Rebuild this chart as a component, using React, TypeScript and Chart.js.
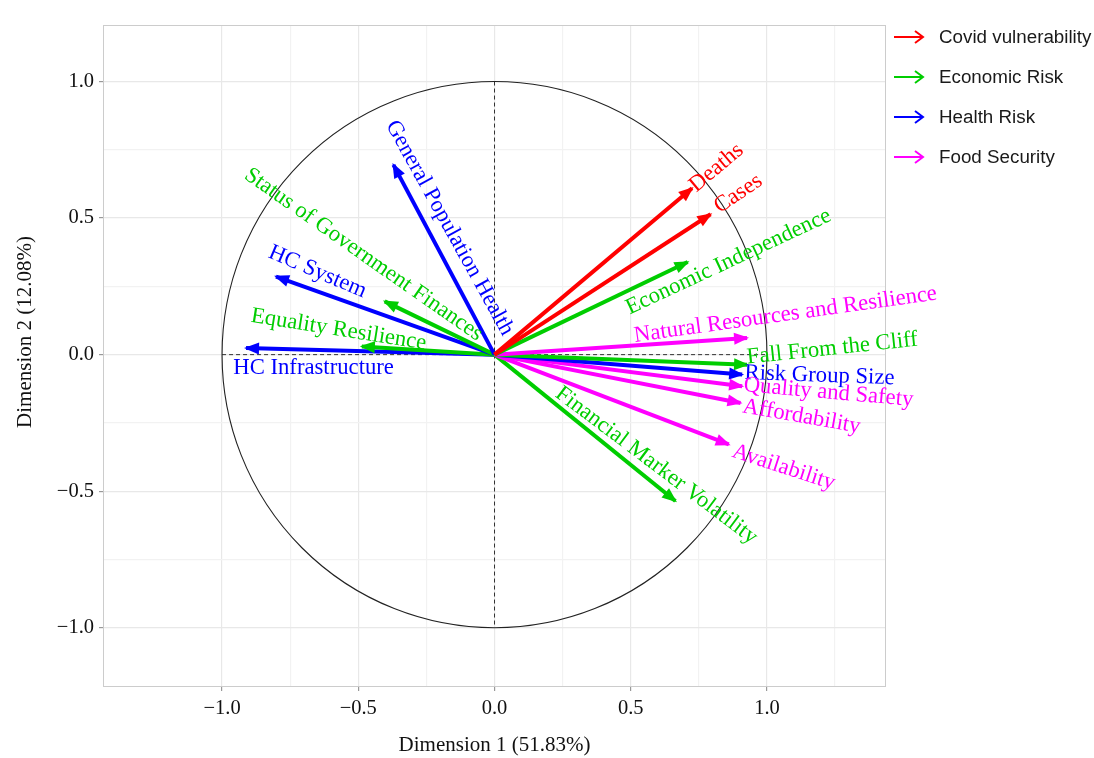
import React, { useEffect, useRef } from "react";
import { Chart, registerables } from "chart.js";

Chart.register(...registerables);

// ---- Data ----
const variables = [
  "Deaths",
  "Cases",
  "Economic Independence",
  "Natural Resources and Resilience",
  "Fall From the Cliff",
  "Risk Group Size",
  "Quality and Safety",
  "Affordability",
  "Availability",
  "Financial Marker Volatility",
  "General Population Health",
  "Status of Government Finances",
  "HC System",
  "Equality Resilience",
  "HC Infrastructure",
];
const dim1 = [0.725, 0.793, 0.709, 0.927, 0.927, 0.909, 0.909, 0.903, 0.86, 0.664, -0.371, -0.403, -0.802, -0.487, -0.912];
const dim2 = [0.609, 0.514, 0.339, 0.061, -0.037, -0.073, -0.116, -0.177, -0.329, -0.536, 0.695, 0.195, 0.286, 0.03, 0.024];
const groupOf = [0, 0, 1, 3, 1, 2, 3, 3, 3, 1, 2, 1, 2, 1, 2];

const groups = ["Covid vulnerability", "Economic Risk", "Health Risk", "Food Security"];

const xTickValues = [-1, -0.75, -0.5, -0.25, 0, 0.25, 0.5, 0.75, 1, 1.25];
const yTickValues = [-1, -0.75, -0.5, -0.25, 0, 0.25, 0.5, 0.75, 1];

const xTitle = "Dimension 1 (51.83%)";
const yTitle = "Dimension 2 (12.08%)";

// ---- Label placement (data coords + angle in degrees) ----
const labelPlacement = [
  { x: 0.815, y: 0.684, a: -40 },
  { x: 0.895, y: 0.589, a: -34 },
  { x: 0.859, y: 0.34, a: -25 },
  { x: 1.068, y: 0.146, a: -8 },
  { x: 1.24, y: 0.022, a: -6 },
  { x: 1.193, y: -0.077, a: 2 },
  { x: 1.226, y: -0.139, a: 5 },
  { x: 1.127, y: -0.227, a: 10 },
  { x: 1.061, y: -0.413, a: 18 },
  { x: 0.594, y: -0.406, a: 37 },
  { x: -0.165, y: 0.464, a: 61 },
  { x: -0.481, y: 0.366, a: 35 },
  { x: -0.65, y: 0.303, a: 23 },
  { x: -0.572, y: 0.091, a: 9 },
  { x: -0.664, y: -0.048, a: 0 },
];

// ---- Styles ----
const groupColors = ["#FF0000", "#00CD00", "#0000FF", "#FF00FF"];
const SERIF = "'Liberation Serif', 'Times New Roman', serif";
const SANS = "'Liberation Sans', Arial, sans-serif";

const isMajor = (v: number) => Math.abs(v * 2 - Math.round(v * 2)) < 1e-9;
const fmt = (v: number) => (v < 0 ? "\u2212" : "") + Math.abs(v).toFixed(1);

const decorPlugin = {
  id: "decor",
  beforeDatasetsDraw(chart: any) {
    const { ctx, chartArea, scales } = chart;
    const xs = scales.x;
    const ys = scales.y;
    ctx.save();
    ctx.strokeStyle = "#cccccc";
    ctx.lineWidth = 1;
    ctx.strokeRect(chartArea.left + 0.5, chartArea.top + 0.5, chartArea.right - chartArea.left - 1, chartArea.bottom - chartArea.top - 1);
    ctx.strokeStyle = "#333333";
    ctx.setLineDash([4, 3]);
    ctx.lineWidth = 1;
    ctx.beginPath();
    ctx.moveTo(xs.getPixelForValue(-1), ys.getPixelForValue(0));
    ctx.lineTo(xs.getPixelForValue(1), ys.getPixelForValue(0));
    ctx.moveTo(xs.getPixelForValue(0), ys.getPixelForValue(1));
    ctx.lineTo(xs.getPixelForValue(0), ys.getPixelForValue(-1));
    ctx.stroke();
    ctx.setLineDash([]);
    const cx = xs.getPixelForValue(0);
    const cy = ys.getPixelForValue(0);
    const rx = xs.getPixelForValue(1) - cx;
    const ry = cy - ys.getPixelForValue(1);
    ctx.strokeStyle = "#222222";
    ctx.lineWidth = 1.1;
    ctx.beginPath();
    ctx.ellipse(cx, cy, rx, ry, 0, 0, Math.PI * 2);
    ctx.stroke();
    ctx.restore();
  },
  afterDatasetsDraw(chart: any) {
    const { ctx, scales } = chart;
    const xs = scales.x;
    const ys = scales.y;
    ctx.save();
    variables.forEach((_, i) => {
      const x0 = xs.getPixelForValue(0);
      const y0 = ys.getPixelForValue(0);
      const x1 = xs.getPixelForValue(dim1[i]);
      const y1 = ys.getPixelForValue(dim2[i]);
      const ang = Math.atan2(y1 - y0, x1 - x0);
      const tx = x1 + Math.cos(ang) * 2;
      const ty = y1 + Math.sin(ang) * 2;
      const L = 15;
      const W = 6;
      const bx = tx - Math.cos(ang) * L;
      const by = ty - Math.sin(ang) * L;
      ctx.fillStyle = groupColors[groupOf[i]];
      ctx.beginPath();
      ctx.moveTo(tx, ty);
      ctx.lineTo(bx + Math.sin(ang) * W, by - Math.cos(ang) * W);
      ctx.lineTo(bx - Math.sin(ang) * W, by + Math.cos(ang) * W);
      ctx.closePath();
      ctx.fill();
    });
    ctx.font = `22.7px ${SERIF}`;
    ctx.textAlign = "center";
    ctx.textBaseline = "middle";
    variables.forEach((name, i) => {
      const p = labelPlacement[i];
      ctx.save();
      ctx.translate(xs.getPixelForValue(p.x), ys.getPixelForValue(p.y));
      ctx.rotate((p.a * Math.PI) / 180);
      ctx.fillStyle = groupColors[groupOf[i]];
      ctx.fillText(name, 0, 0);
      ctx.restore();
    });
    ctx.restore();
  },
  afterDraw(chart: any) {
    const { ctx, chartArea } = chart;
    ctx.save();
    ctx.fillStyle = "#111111";
    ctx.font = `21px ${SERIF}`;
    ctx.textAlign = "center";
    ctx.textBaseline = "middle";
    ctx.fillText(xTitle, (chartArea.left + chartArea.right) / 2, 745);
    ctx.save();
    ctx.translate(25, 332);
    ctx.rotate(-Math.PI / 2);
    ctx.fillText(yTitle, 0, 0);
    ctx.restore();
    groups.forEach((g, i) => {
      const y = 37 + i * 40;
      const col = groupColors[i];
      ctx.strokeStyle = col;
      ctx.lineWidth = 2;
      ctx.beginPath();
      ctx.moveTo(894, y);
      ctx.lineTo(923, y);
      ctx.moveTo(915, y - 6);
      ctx.lineTo(923, y);
      ctx.lineTo(915, y + 6);
      ctx.stroke();
      ctx.fillStyle = "#1a1a1a";
      ctx.font = `18.8px ${SANS}`;
      ctx.textAlign = "left";
      ctx.textBaseline = "middle";
      ctx.fillText(g, 939, y + 1);
    });
    ctx.restore();
  },
};

export default function App() {
  const canvasRef = useRef<HTMLCanvasElement | null>(null);

  useEffect(() => {
    document.body.style.margin = "0";
    const canvas = canvasRef.current;
    if (!canvas) return;

    const datasets = variables.map((name, i) => ({
      label: name,
      data: [
        { x: 0, y: 0 },
        { x: dim1[i], y: dim2[i] },
      ],
      showLine: true,
      borderColor: groupColors[groupOf[i]],
      backgroundColor: groupColors[groupOf[i]],
      borderWidth: 4,
      pointRadius: 0,
      borderCapStyle: "butt",
    }));

    const gridColor = (ctx: any) => (ctx.tick && isMajor(ctx.tick.value) ? "#e8e8e8" : "#f2f2f2");
    const tickColor = (ctx: any) => (ctx.tick && isMajor(ctx.tick.value) ? "#999999" : "rgba(0,0,0,0)");

    const chart = new Chart(canvas, {
      type: "scatter",
      data: { datasets: datasets as any },
      options: {
        responsive: false,
        animation: false,
        layout: { padding: { top: 25, right: 208, left: 0, bottom: 0 } },
        plugins: {
          legend: { display: false },
          tooltip: { enabled: false },
        },
        scales: {
          x: {
            type: "linear",
            min: -1.437,
            max: 1.437,
            afterBuildTicks: (scale: any) => {
              scale.ticks = xTickValues.map((v) => ({ value: v }));
            },
            afterFit: (scale: any) => {
              scale.height = 71;
            },
            grid: { color: gridColor, lineWidth: 1.2, tickLength: 4, tickColor: tickColor, drawTicks: true },
            border: { display: false },
            ticks: {
              autoSkip: false,
              maxRotation: 0,
              padding: 5,
              color: "#111111",
              font: { family: SERIF, size: 20.5 },
              callback: (v: any) => (isMajor(Number(v)) ? fmt(Number(v)) : ""),
            },
          },
          y: {
            type: "linear",
            min: -1.217,
            max: 1.207,
            afterBuildTicks: (scale: any) => {
              scale.ticks = yTickValues.map((v) => ({ value: v }));
            },
            afterFit: (scale: any) => {
              scale.width = 103;
            },
            grid: { color: gridColor, lineWidth: 1.2, tickLength: 4, tickColor: tickColor, drawTicks: true },
            border: { display: false },
            ticks: {
              autoSkip: false,
              padding: 5,
              color: "#111111",
              font: { family: SERIF, size: 20.5 },
              callback: (v: any) => (isMajor(Number(v)) ? fmt(Number(v)) : ""),
            },
          },
        },
      },
      plugins: [decorPlugin],
    } as any);

    return () => chart.destroy();
  }, []);

  return (
    <div style={{ width: 1094, height: 758, position: "relative", background: "#fff" }}>
      <canvas ref={canvasRef} width={1094} height={758} style={{ display: "block" }} />
    </div>
  );
}
